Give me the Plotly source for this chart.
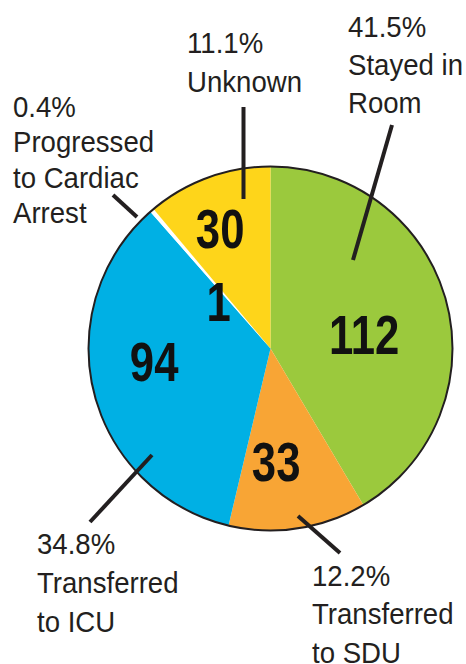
import plotly.graph_objects as go

# ---- data ----
categories = ["Stayed in Room", "Transferred to SDU", "Transferred to ICU",
              "Progressed to Cardiac Arrest", "Unknown"]
counts = [112, 33, 94, 1, 30]
percent_labels = ["41.5%", "12.2%", "34.8%", "0.4%", "11.1%"]
label_lines = [["Stayed in", "Room"], ["Transferred", "to SDU"], ["Transferred", "to ICU"],
               ["Progressed", "to Cardiac", "Arrest"], ["Unknown"]]

# ---- style / layout ----
W, H = 466, 664
colors = ["#9BC93D", "#F8A535", "#00B0E4", "#FFFFFF", "#FED51A"]
ink = "#231f20"
txt_font = "Liberation Sans, Arial, sans-serif"
cx, cy, R = 270.5, 348.5, 182
LABEL_SIZE = 30
NUM_SIZE = 56

def px(x):
    return x / W

def py(y):
    return 1 - y / H

# inner count label centers (pixels)
inner_pos = [(364, 335), (275.5, 462), (153.5, 362), (218, 302), (220, 229)]
# outer label: left x, first baseline y, line gap (pixels)
outer_pos = [(347, 36.5, 38), (311, 586, 38.3), (36, 554, 38.8), (12, 117, 35.3), (186, 53.3, 38.3)]
# leader lines (pixels): (x0, y0, x1, y1)
leaders = [(353, 260, 392, 125), (298, 516, 340, 553), (152, 455, 90, 522),
           (137, 217, 113, 195), (243.5, 199, 243.5, 107)]

domain_x = [px(cx - R), px(cx + R)]
domain_y = [py(cy + R), py(cy - R)]

fig = go.Figure()
fig.add_trace(go.Pie(
    labels=categories, values=counts, sort=False, direction="clockwise",
    rotation=0, marker=dict(colors=colors, line=dict(width=0)),
    textinfo="none", hoverinfo="label+value", domain=dict(x=domain_x, y=domain_y),
    showlegend=False,
))
# outer outline circle
fig.add_trace(go.Pie(
    labels=["all"], values=[sum(counts)], sort=False,
    marker=dict(colors=["rgba(0,0,0,0)"], line=dict(color=ink, width=2)),
    textinfo="none", hoverinfo="skip", domain=dict(x=domain_x, y=domain_y),
    showlegend=False,
))

annotations = []
num_off = 0.3465 * NUM_SIZE - 0.358 * NUM_SIZE  # box centre vs digit centre
for val, (x, y) in zip(counts, inner_pos):
    annotations.append(dict(
        x=px(x), y=py(y + num_off), xref="paper", yref="paper", showarrow=False,
        text=f"<b>{val}</b>", xanchor="center", yanchor="middle",
        font=dict(family=txt_font, size=NUM_SIZE, color="#111111"), borderpad=0,
    ))
lab_off = 0.3465 * LABEL_SIZE
for pct, lines, (x, y0, gap) in zip(percent_labels, label_lines, outer_pos):
    for i, line in enumerate([pct] + lines):
        annotations.append(dict(
            x=px(x), y=py(y0 + i * gap - lab_off), xref="paper", yref="paper",
            showarrow=False, text=line, xanchor="left", yanchor="middle", align="left",
            font=dict(family=txt_font, size=LABEL_SIZE, color=ink), borderpad=0,
        ))

shapes = []
for (x0, y0, x1, y1) in leaders:
    shapes.append(dict(type="line", xref="paper", yref="paper",
                       x0=px(x0), y0=py(y0), x1=px(x1), y1=py(y1),
                       line=dict(color=ink, width=4)))

fig.update_layout(
    width=W, height=H, margin=dict(l=0, r=0, t=0, b=0),
    paper_bgcolor="white", plot_bgcolor="white",
    annotations=annotations, shapes=shapes, showlegend=False,
)

post = """
document.body.style.margin = '0';
document.querySelectorAll('.annotation-text').forEach(function(t){
  var s = t.textContent;
  t.style.transformBox = 'fill-box';
  if (/^[0-9]+$/.test(s)) { t.style.transformOrigin = 'center'; t.style.transform = 'scaleX(0.78)'; }
  else { t.style.transformOrigin = 'left'; t.style.transform = 'scaleX(0.92)'; }
});
"""
fig.write_html("out.html", post_script=post, config={"displayModeBar": False})
